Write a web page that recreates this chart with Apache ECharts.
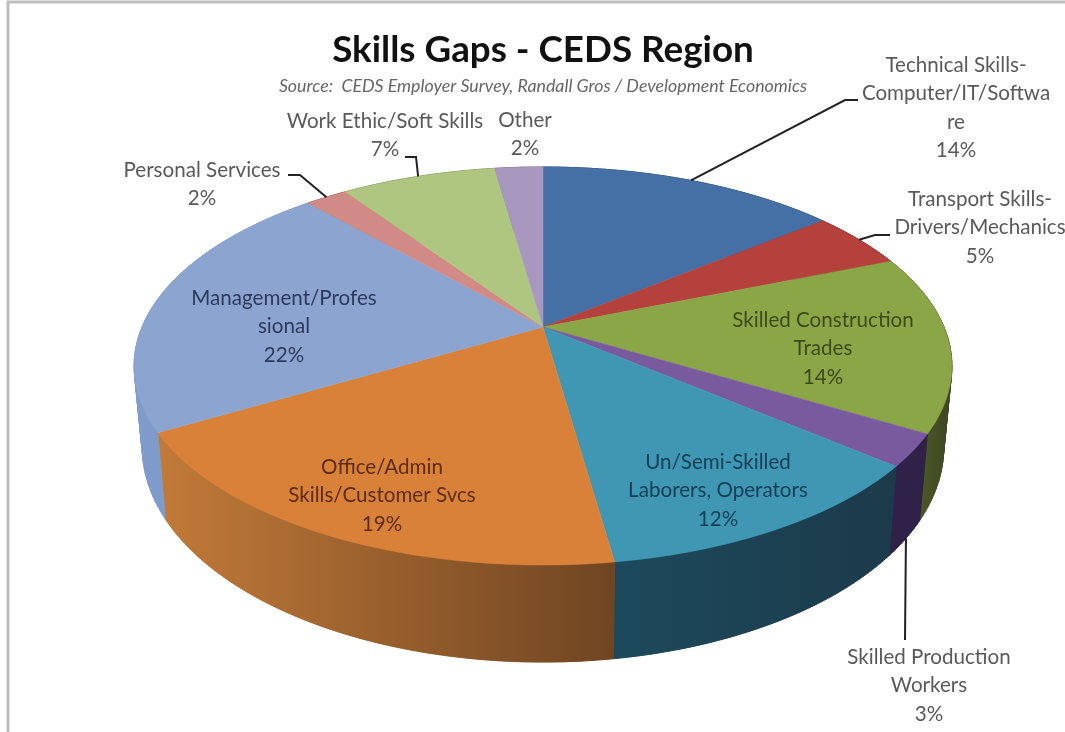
<!DOCTYPE html>
<html><head><meta charset="utf-8">
<style>html,body{margin:0;padding:0;background:#fff}#c{width:1065px;height:732px;filter:blur(0.45px)}</style>
<script src="https://cdn.jsdelivr.net/npm/echarts@6/dist/echarts.min.js"></script>
</head><body><div id="c"></div>
<script>
var categories=["Technical Skills-\nComputer/IT/Softwa\nre","Transport Skills-\nDrivers/Mechanics","Skilled Construction\nTrades","Skilled Production\nWorkers","Un/Semi-Skilled\nLaborers, Operators","Office/Admin\nSkills/Customer Svcs","Management/Profes\nsional","Personal Services","Work Ethic/Soft Skills","Other"];
var shares=[14.3,4.7,14.4,2.6,11.7,19.0,21.6,2.0,7.4,2.3];
var topColors=["#4470A6","#B5413D","#8BA646","#7A5A9E","#3F97B3","#D98139","#8CA5D0","#D28A86","#AFC680","#A898C0"];
var wallLeft=["#2c4a70","#7a2c2a","#5d7030","#2f2148","#1c4a5c","#C27A38","#7f9ccb","#8c5c5a","#75854f","#70658a"];
var wallRight=["#2c4a70","#7a2c2a","#3c4420","#2f2148","#1c3a4a","#6f4522","#7595c8","#8c5c5a","#75854f","#70658a"];
var textColors=["#595959","#595959","#3c4a18","#595959","#123f55","#5c2d0c","#2d3a5e","#595959","#595959","#595959"];
var labelCentres=[[956,65],[980,199],[823,320],[929,657],[718,462],[382,467],[284,298],[202,170],[385,121],[525,120]];
var leaderElbows=[[[845,100],[858,100]],[[875,235],[890,235]],null,[[905,640]],null,null,null,[[300,175],[288,175]],[[416,157],[405,157]],null];
var leaderOnBase=[false,false,false,true,false,false,false,false,false,false];

var CX=543,CY=327,R=401,S=191.4,P=0.196,DEPTH=78,BOTTOM_SCALE=0.98;
var total=shares.reduce(function(a,b){return a+b},0);
function topPt(t){var u=Math.sin(t),v=-Math.cos(t),w=1-P*v;return [CX+R*u/w,CY+S*v/w];}
function basePt(t){var u=Math.sin(t),v=-Math.cos(t),w=1-P*v;return [CX+BOTTOM_SCALE*R*u/w,CY+S*v/w+DEPTH/w];}
function range(i){var a=0;for(var k=0;k<i;k++)a+=shares[k];return [a/total*2*Math.PI,(a+shares[i])/total*2*Math.PI];}
function arc(f,a,b){var n=Math.max(4,Math.ceil((b-a)/0.02)),p=[];for(var k=0;k<=n;k++)p.push(f(a+(b-a)*k/n));return p;}
function wallItem(params,api){
  var i=api.value(0),r=range(i);
  var T=arc(topPt,r[0],r[1]),B=arc(basePt,r[0],r[1]);
  var xs=T.concat(B).map(function(p){return p[0]});
  var x0=Math.min.apply(null,xs),x1=Math.max.apply(null,xs);
  var fill={type:'linear',x:x0,y:0,x2:x1,y2:0,global:true,colorStops:[{offset:0,color:wallLeft[i]},{offset:1,color:wallRight[i]}]};
  var kids=[];
  for(var k=0;k<T.length-1;k++){
    kids.push({type:'polygon',shape:{points:[T[k],T[k+1],B[k+1],B[k]]},style:{fill:fill,stroke:fill,lineWidth:0.8}});
  }
  kids.push({type:'polygon',shape:{points:T.concat(B.slice().reverse())},style:{fill:fill,stroke:fill,lineWidth:0.5}});
  return {type:'group',children:kids};
}
function topItem(params,api){
  var i=api.value(0),r=range(i);
  var pts=[[CX,CY]].concat(arc(topPt,r[0],r[1]));
  return {type:'polygon',shape:{points:pts},style:{fill:topColors[i],stroke:topColors[i],lineWidth:0.5}};
}
function labelItem(params,api){
  var i=api.value(0),r=range(i),mid=(r[0]+r[1])/2,kids=[];
  if(leaderElbows[i]){
    var start=(leaderOnBase[i]?basePt:topPt)(mid);
    kids.push({type:'polyline',shape:{points:[start].concat(leaderElbows[i])},style:{fill:null,stroke:'#222',lineWidth:2}});
  }
  var lines=categories[i].split('\n').concat([Math.round(shares[i])+'%']);
  lines.forEach(function(t,k){
    kids.push({type:'text',style:{text:t,x:labelCentres[i][0],y:labelCentres[i][1]+k*28.5,align:'center',verticalAlign:'middle',fill:textColors[i],font:'20.6px Lato'}});
  });
  return {type:'group',children:kids};
}
var rows=categories.map(function(c,i){return [i,shares[i],c]});
var chart=echarts.init(document.getElementById('c'),null,{renderer:'canvas'});
chart.setOption({
  animation:false,backgroundColor:'#fff',
  title:{text:'Skills Gaps - CEDS Region',subtext:'Source:  CEDS Employer Survey, Randall Gros / Development Economics',left:538,top:27,textAlign:'center',
    textStyle:{fontFamily:'Lato',fontWeight:'bold',fontSize:36.8,color:'#111'},
    subtextStyle:{fontFamily:'Lato',fontStyle:'italic',fontSize:17.8,color:'#666'},itemGap:8},
  graphic:[{type:'rect',silent:true,shape:{x:8,y:2,width:1100,height:800},style:{fill:null,stroke:'#bdbdbd',lineWidth:3}}],
  series:[
    {type:'custom',coordinateSystem:'none',data:rows,renderItem:wallItem,silent:true,z:1},
    {type:'custom',coordinateSystem:'none',data:rows,renderItem:topItem,silent:true,z:2},
    {type:'custom',coordinateSystem:'none',data:rows,renderItem:labelItem,silent:true,z:3}
  ]
});
</script></body></html>
